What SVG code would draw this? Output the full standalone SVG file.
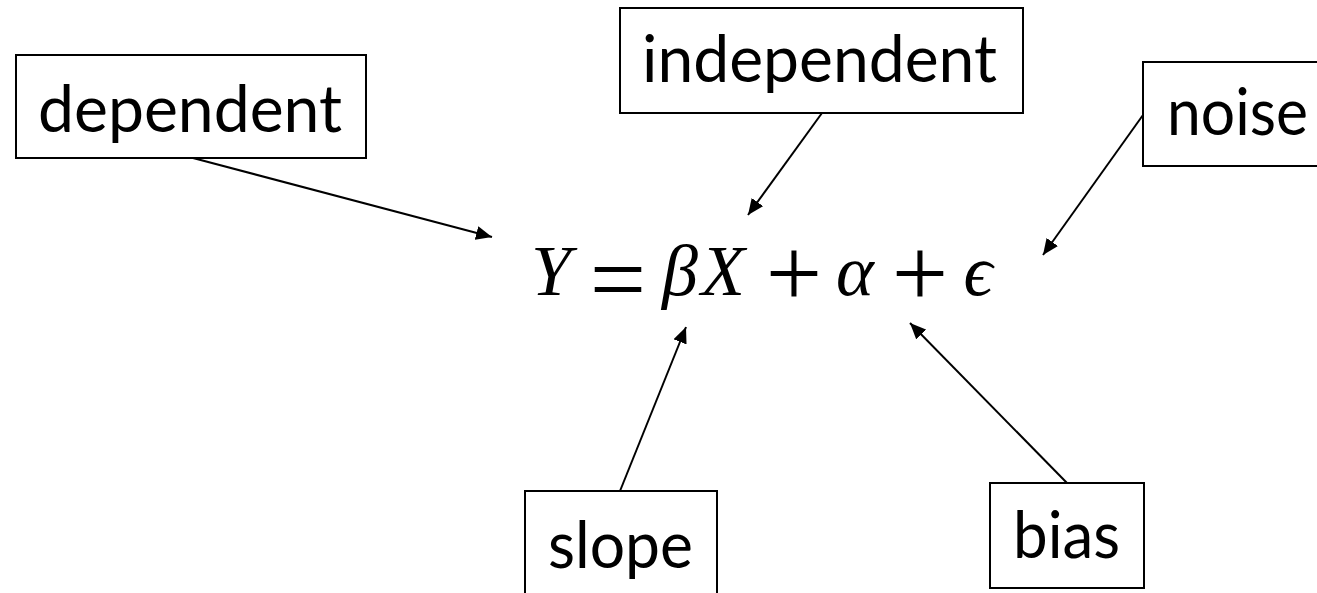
<svg xmlns="http://www.w3.org/2000/svg" width="1317" height="593" viewBox="0 0 1317 593">
<style>
.box{fill:#fff;stroke:#000;stroke-width:2}
.lbl{font-family:Lato,"Open Sans","Liberation Sans",sans-serif;font-size:66px;fill:#000}
.eq{font-family:"Liberation Serif","DejaVu Serif",serif;font-size:72px;fill:#000;text-anchor:middle}
.op{font-family:"Liberation Serif","DejaVu Serif",serif;font-size:100px;fill:#000;text-anchor:middle}
.it{font-style:italic}
.conn{stroke:#000;stroke-width:2;fill:none;marker-end:url(#ah)}
</style>
<defs>
<marker id="ah" markerUnits="userSpaceOnUse" markerWidth="18" markerHeight="14" refX="16" refY="7" orient="auto">
<path d="M0,0 L16,7 L0,14 Z" fill="#000"/>
</marker>
</defs>
<rect width="1317" height="593" fill="#fff"/>
<g id="equation">
<text class="eq it" x="551" y="295">Y</text>
<text class="op" x="618" y="313" font-size="90">=</text>
<text class="eq it" x="680" y="295">β</text>
<text class="eq it" x="723" y="295">X</text>
<text class="op" x="794" y="307">+</text>
<text class="eq it" x="855" y="295">α</text>
<text class="op" x="920" y="307">+</text>
<text class="eq it" x="978" y="295">ϵ</text>
</g>
<g id="connectors">
<line class="conn" x1="193" y1="158" x2="492" y2="237"/>
<line class="conn" x1="822" y1="113" x2="748" y2="215"/>
<line class="conn" x1="1143" y1="115" x2="1043" y2="255"/>
<line class="conn" x1="620" y1="491" x2="686" y2="327"/>
<line class="conn" x1="1067" y1="483" x2="910" y2="323"/>
</g>
<g id="dependent">
<rect class="box" x="16" y="55" width="350" height="103"/>
<text class="lbl" x="38" y="132" textLength="304" lengthAdjust="spacingAndGlyphs">dependent</text>
</g>
<g id="independent">
<rect class="box" x="620" y="8" width="403" height="105"/>
<text class="lbl" x="642" y="82" textLength="355" lengthAdjust="spacingAndGlyphs">independent</text>
</g>
<g id="noise">
<rect class="box" x="1143" y="62" width="190" height="104"/>
<text class="lbl" x="1167" y="135" textLength="141" lengthAdjust="spacingAndGlyphs">noise</text>
</g>
<g id="slope">
<rect class="box" x="525" y="491" width="192" height="120"/>
<text class="lbl" x="548" y="568" textLength="145" lengthAdjust="spacingAndGlyphs">slope</text>
</g>
<g id="bias">
<rect class="box" x="990" y="483" width="154" height="105"/>
<text class="lbl" x="1013" y="558" textLength="107" lengthAdjust="spacingAndGlyphs">bias</text>
</g>
</svg>
